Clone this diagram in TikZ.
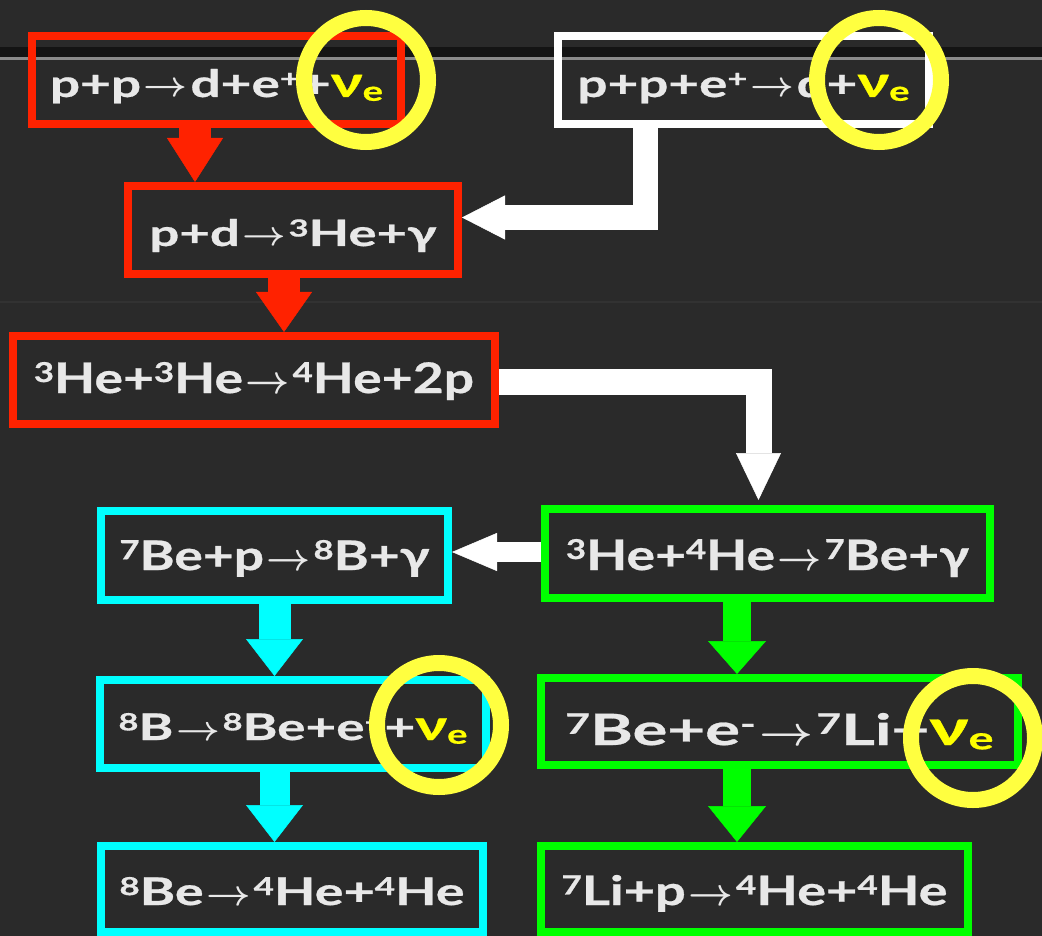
\documentclass[tikz,border=0pt]{standalone}
\usepackage{fontspec}
\setmainfont{Lato}[BoldFeatures={FakeBold=0.6}]
\usepackage{graphicx}
\usetikzlibrary{arrows.meta}
\definecolor{bg}{HTML}{2A2A2A}
\definecolor{band}{HTML}{141414}
\definecolor{bandline}{HTML}{8A8A8A}
\definecolor{faint}{HTML}{323232}
\definecolor{rboxc}{HTML}{FF2200}
\definecolor{cboxc}{HTML}{00FFFF}
\definecolor{gboxc}{HTML}{00FF00}
\definecolor{txt}{HTML}{E8E8E8}
\definecolor{nuy}{HTML}{FFFF00}
\definecolor{ringc}{HTML}{FFFF40}
\newcommand{\su}[1]{\raisebox{0.26em}{\scalebox{0.65}{#1}}}
\newcommand{\nue}{{\color{nuy}\scalebox{1.15}{ν}\raisebox{-0.1em}{\scalebox{0.72}{e}}}}
\newcommand{\rarr}{\hspace{0.05em}\scalebox{0.72}[0.95]{\boldmath$\rightarrow$}\hspace{0.05em}}
\newcommand{\rx}[3]{\resizebox{#1pt}{#2pt}{\bfseries #3}}
\tikzset{
  eqbox/.style={draw=#1, line width=8pt, inner sep=0pt, outer sep=4pt, text=txt, text depth=0pt},
  ring/.style={circle, draw=ringc, line width=16pt, inner sep=0pt, minimum size=124pt},
  barrow/.style n args={4}{draw=#1, line width=#2pt, -{Triangle[width=#3pt,length=#4pt,line width=0.5pt]}},
}
\begin{document}
\begin{tikzpicture}[x=1pt,y=-1pt]
\fill[bg] (0,0) rectangle (1042,936);
\useasboundingbox (0,0) rectangle (1042,936);
% background texture lines
\fill[band] (0,47) rectangle (1042,57.5);
\fill[bandline] (0,57.5) rectangle (1042,60.5);
\fill[faint] (0,301) rectangle (1042,303);

% boxes
\node[eqbox=rboxc, minimum width=369pt, minimum height=88pt, text height=34pt] (r1) at (216.5,80)
  {\rx{333}{28}{p+p\rarr d+e\su{+}+\nue}};
\node[eqbox=white, minimum width=371pt, minimum height=88pt, text height=34pt] (w1) at (743.5,80)
  {\rx{332}{28}{p+p+e\su{+}\rarr d+\nue}};
\node[eqbox=rboxc, minimum width=330pt, minimum height=88pt, text height=32pt] (r2) at (293,230)
  {\rx{287}{27}{p+d\rarr\su{3}He+γ}};
\node[eqbox=rboxc, minimum width=482pt, minimum height=88pt, text height=26pt] (r3) at (254,380)
  {\rx{440}{31}{\su{3}He+\su{3}He\rarr\su{4}He+2p}};
\node[eqbox=gboxc, minimum width=445pt, minimum height=89pt, text height=33pt] (g1) at (767.5,553.5)
  {\rx{403}{31}{\su{3}He+\su{4}He\rarr\su{7}Be+γ}};
\node[eqbox=cboxc, minimum width=347pt, minimum height=89pt, text height=29pt] (c1) at (274.5,555.5)
  {\rx{310}{30}{\su{7}Be+p\rarr\su{8}B+γ}};
\node[eqbox=cboxc, minimum width=386pt, minimum height=88pt, text height=32pt] (c2) at (293,724)
  {\rx{349}{27}{\su{8}B\rarr\su{8}Be+e\su{+}+\nue}};
\node[eqbox=cboxc, minimum width=382pt, minimum height=86pt, text height=32pt] (c3) at (292,889)
  {\rx{345}{28}{\su{8}Be\rarr\su{4}He+\su{4}He}};
\node[eqbox=gboxc, minimum width=477pt, minimum height=87pt, text height=47pt] (g2) at (779.5,721.5)
  {\rx{428}{32}{\su{7}Be+e\su{-}\rarr\su{7}Li+\nue}};
\node[eqbox=gboxc, minimum width=427pt, minimum height=86pt, text height=32pt] (g3) at (754.5,889)
  {\rx{386}{30}{\su{7}Li+p\rarr\su{4}He+\su{4}He}};

% connector guide coordinates
\coordinate (xr1) at (195,0);
\coordinate (xr2) at (284,0);
\coordinate (xw1) at (645.5,0);
\coordinate (yw1) at (0,217.5);
\coordinate (yw2) at (0,381.5);
\coordinate (xw2) at (758.5,0);
\coordinate (yw3) at (0,552);
\coordinate (xc) at (274.5,0);
\coordinate (xg) at (737,0);

% connectors
\draw[barrow={rboxc}{32}{56}{44}] (r1.south -| xr1) -- (r2.north -| xr1);
\draw[barrow={rboxc}{32}{56}{40}] (r2.south -| xr2) -- (r3.north -| xr2);
\draw[barrow={white}{25}{44}{43}] (w1.south -| xw1) |- (r2.east |- yw1);
\draw[barrow={white}{26}{45}{47}] (r3.east |- yw2) -| ([yshift=5pt]g1.north -| xw2);
\draw[barrow={white}{20}{38}{45}] (g1.west |- yw3) -- (c1.east |- yw3);
\draw[barrow={cboxc}{32}{57}{37}] (c1.south -| xc) -- (c2.north -| xc);
\draw[barrow={cboxc}{30}{57}{37}] (c2.south -| xc) -- (c3.north -| xc);
\draw[barrow={gboxc}{28}{58}{33}] (g1.south -| xg) -- (g2.north -| xg);
\draw[barrow={gboxc}{28}{58}{36}] (g2.south -| xg) -- (g3.north -| xg);

% neutrino rings
\node[ring] (n1) at (366,80) {};
\node[ring] (n2) at (879,80) {};
\node[ring] (n3) at (439,725) {};
\node[ring] (n4) at (973,738) {};
\end{tikzpicture}
\end{document}
